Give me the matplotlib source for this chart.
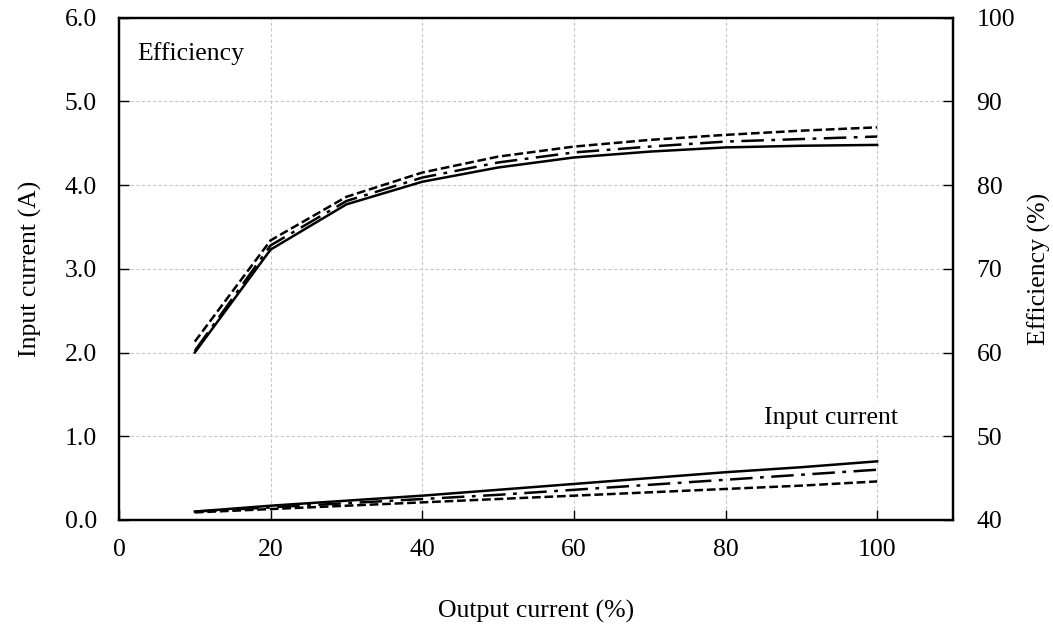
import numpy as np
import matplotlib
matplotlib.use("Agg")
import matplotlib.pyplot as plt

plt.rcParams['font.family'] = ['Liberation Serif', 'DejaVu Serif']

# Output current steps (%)
output_pct = [10, 20, 30, 40, 50, 60, 70, 80, 90, 100]

# Input current (A) for the three cases
input_solid = [0.10, 0.17, 0.23, 0.29, 0.36, 0.43, 0.50, 0.57, 0.63, 0.70]
input_dashdot = [0.10, 0.15, 0.20, 0.25, 0.30, 0.36, 0.42, 0.48, 0.54, 0.60]
input_dashed = [0.09, 0.13, 0.17, 0.21, 0.25, 0.29, 0.33, 0.37, 0.41, 0.46]

# Efficiency (%) for the three cases
eff_solid = [60.0, 72.3, 77.7, 80.4, 82.1, 83.3, 84.0, 84.5, 84.7, 84.8]
eff_dashdot = [60.2, 72.8, 78.1, 80.9, 82.7, 83.9, 84.6, 85.2, 85.5, 85.8]
eff_dashed = [61.3, 73.4, 78.6, 81.5, 83.4, 84.6, 85.4, 86.0, 86.5, 86.9]

FS = 18.5

fig = plt.figure(figsize=(10.53, 6.31), dpi=100)
ax = fig.add_axes([0.113, 0.176, 0.792, 0.796])
ax2 = ax.twinx()

# solid, dash-dot, short dash
dash_styles = [None, (9, 3, 1.5, 3), (3.5, 1.5)]
for y, d in zip([input_solid, input_dashdot, input_dashed], dash_styles):
    line, = ax.plot(output_pct, y, color='black', lw=1.8)
    if d:
        line.set_dashes(d)
for y, d in zip([eff_solid, eff_dashdot, eff_dashed], dash_styles):
    line, = ax2.plot(output_pct, y, color='black', lw=1.8)
    if d:
        line.set_dashes(d)

ax.set_xlim(0, 110)
ax.set_ylim(0, 6)
ax2.set_ylim(40, 100)
ax.set_xticks([0, 20, 40, 60, 80, 100])
ax.set_yticks(np.arange(0, 6.01, 1.0))
ax.set_yticklabels([f"{v:.1f}" for v in np.arange(0, 6.01, 1.0)])
ax2.set_yticks(range(40, 101, 10))

ax.grid(True, color='#c8c8c8', ls=(0, (3, 2)), lw=0.8)
ax.set_axisbelow(True)

ax.tick_params(axis='both', direction='in', length=7, width=1, labelsize=FS)
ax.tick_params(axis='y', pad=16)
ax.tick_params(axis='x', pad=14)
ax2.tick_params(axis='y', direction='in', length=7, width=1, labelsize=FS, pad=17)
for a in (ax, ax2):
    for s in a.spines.values():
        s.set_linewidth(1.6)

ax.set_xlabel("Output current (%)", fontsize=FS, labelpad=28)
ax.set_ylabel("Input current (A)", fontsize=FS, labelpad=16)
ax2.set_ylabel("Efficiency (%)", fontsize=FS, labelpad=9)

ax.text(0.022, 0.928, "Efficiency", transform=ax.transAxes, fontsize=FS,
        va='center', ha='left')
ax.text(0.854, 0.203, "Input current", transform=ax.transAxes, fontsize=FS,
        va='center', ha='center',
        bbox=dict(facecolor='white', edgecolor='none', pad=4))

fig.savefig("out.png", dpi=100)
